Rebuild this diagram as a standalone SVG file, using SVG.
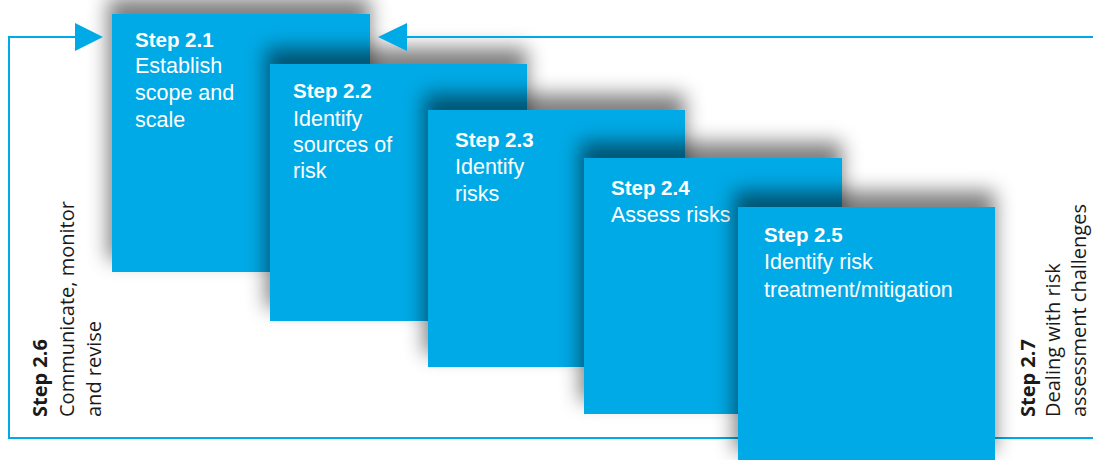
<svg xmlns="http://www.w3.org/2000/svg" width="1093" height="460" viewBox="0 0 1093 460">
<defs>
<filter id="blur" x="-30%" y="-30%" width="160%" height="160%"><feGaussianBlur stdDeviation="10"/></filter>
<style>
.box{fill:#00aae6}
.sh{fill:#000;opacity:0.5}
.t{font-family:"Liberation Sans",Arial,sans-serif;font-size:21.5px;fill:#fff}
.b{font-family:"Liberation Sans",Arial,sans-serif;font-size:20.5px;font-weight:bold;fill:#fff}
.s{font-family:"Open Sans","Liberation Sans",sans-serif;font-size:20px;fill:#1a1a1a}
.sb{font-family:"Open Sans","Liberation Sans",sans-serif;font-size:20px;font-weight:bold;fill:#1a1a1a}
.ln{fill:none;stroke:#00aae6;stroke-width:2}
.ah{fill:#00aae6}
</style>
</defs>
<rect width="1093" height="460" fill="#fff"/>
<g id="step-2-1">
<rect class="sh" x="108" y="-2" width="262" height="262" filter="url(#blur)"/>
<rect class="box" x="112" y="14" width="258" height="258"/>
<text class="b" x="135" y="47">Step 2.1</text>
<text class="t" x="135" y="72.7">Establish</text>
<text class="t" x="135" y="100">scope and</text>
<text class="t" x="135" y="126.7">scale</text>
</g>
<g id="step-2-2">
<rect class="sh" x="266" y="48" width="261" height="260" filter="url(#blur)"/>
<rect class="box" x="270" y="64" width="257" height="257"/>
<text class="b" x="293" y="98.3">Step 2.2</text>
<text class="t" x="293" y="125.5">Identify</text>
<text class="t" x="293" y="151.8">sources of</text>
<text class="t" x="293" y="178.3">risk</text>
</g>
<g id="step-2-3">
<rect class="sh" x="424" y="94" width="261" height="260" filter="url(#blur)"/>
<rect class="box" x="428" y="110" width="257" height="257"/>
<text class="b" x="455" y="147.3">Step 2.3</text>
<text class="t" x="455" y="174">Identify</text>
<text class="t" x="455" y="200.7">risks</text>
</g>
<g id="step-2-4">
<rect class="sh" x="580" y="142" width="262" height="259" filter="url(#blur)"/>
<rect class="box" x="584" y="158" width="258" height="256"/>
<text class="b" x="611" y="195">Step 2.4</text>
<text class="t" x="611" y="221.7">Assess risks</text>
</g>
<g id="connectors">
<polyline class="ln" points="75,37 9,37 9,438 1093,438"/>
<polygon class="ah" points="75,23 103,37 75,51"/>
<line class="ln" x1="407" y1="37" x2="1093" y2="37"/>
<polygon class="ah" points="407,23 378,37 407,51"/>
</g>
<g id="step-2-5">
<rect class="sh" x="734" y="191" width="261" height="260" filter="url(#blur)"/>
<rect class="box" x="738" y="207" width="257" height="257"/>
<text class="b" x="764" y="241.7">Step 2.5</text>
<text class="t" x="764" y="269.3">Identify risk</text>
<text class="t" x="764" y="296.7">treatment/mitigation</text>
</g>
<g id="step-2-6" transform="translate(0,417) rotate(-90)">
<text class="sb" x="0" y="47">Step 2.6</text>
<text class="s" x="0" y="74">Communicate, monitor</text>
<text class="s" x="0" y="101">and revise</text>
</g>
<g id="step-2-7" transform="translate(0,417) rotate(-90)">
<text class="sb" x="0" y="1034.5">Step 2.7</text>
<text class="s" x="0" y="1060">Dealing with risk</text>
<text class="s" x="0" y="1085.5">assessment challenges</text>
</g>
</svg>
